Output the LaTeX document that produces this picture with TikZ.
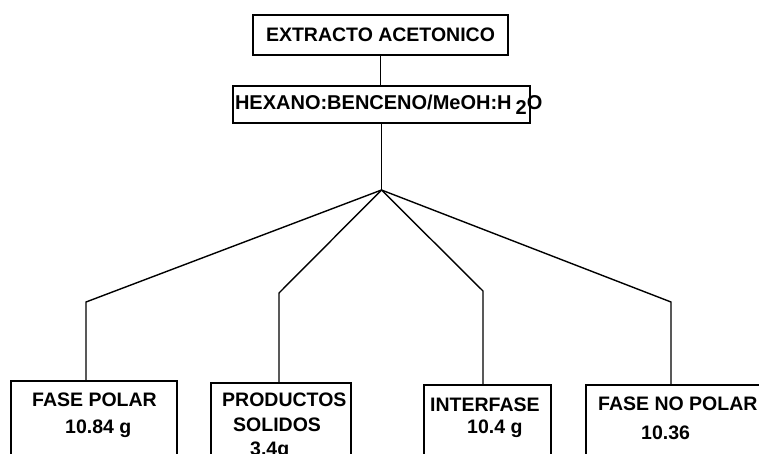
\documentclass[tikz,border=0pt]{standalone}
\usepackage{fontspec}
\setmainfont{Liberation Sans}
\begin{document}
\begin{tikzpicture}[x=1pt,y=-1pt,
  caja/.style={draw, line width=1.5pt, inner sep=0pt},
  rama/.style={line width=1.4pt},
  texto/.style={inner sep=0pt, align=left, anchor=north west}]
\useasboundingbox (0,0) rectangle (759,453);
\clip (0,0) rectangle (759,453);
\bfseries\fontsize{19.5}{22}\selectfont

\node[caja, minimum width=255, minimum height=40] (extracto) at (380.5,35) {EXTRACTO ACETONICO};
\node[caja, minimum width=297, minimum height=37, inner xsep=2pt] (hexano) at (381.5,104.5)
  {\makebox[293pt][l]{\fontsize{20}{22}\selectfont HEXANO:BENCENO/MeOH:H\hspace{4pt}\raisebox{-5pt}{2}O}};
\coordinate (nudo) at (381.5,190);

\node[caja, anchor=north west, minimum width=166, minimum height=90] (polar) at (10,380) {};
\node[caja, anchor=north west, minimum width=140, minimum height=90] (solidos) at (210,382) {};
\node[caja, anchor=north west, minimum width=127, minimum height=90] (interfase) at (423,384) {};
\node[caja, anchor=north west, minimum width=190, minimum height=90] (nopolar) at (585,384) {};

\node[texto, font=\fontsize{19.5}{27}\selectfont] (tpolar) at (32,393) {FASE POLAR\\\hspace*{33pt}10.84 g};
\node[texto, font=\fontsize{19.5}{24.5}\selectfont] (tsolidos) at (222,393) {PRODUCTOS\\\hspace*{11pt}SOLIDOS\\\hspace*{28pt}3.4g};
\node[texto, font=\fontsize{19.5}{22}\selectfont] (tinterfase) at (430,398) {INTERFASE\\\hspace*{37pt}10.4 g};
\node[texto, font=\fontsize{19.5}{29}\selectfont] (tnopolar) at (598,397) {FASE NO POLAR\\\hspace*{43pt}10.36};

\draw[rama] (extracto.south) -- (extracto.south |- hexano.north);
\draw[rama] (hexano.south) -- (nudo);
\foreach \nombre/\x/\y in {polar/86/302, solidos/279/293, interfase/483/291, nopolar/671/302} {
  \draw[rama] (nudo) -- (\x,\y) -- (\x,\y |- \nombre.north);
}
\end{tikzpicture}
\end{document}
